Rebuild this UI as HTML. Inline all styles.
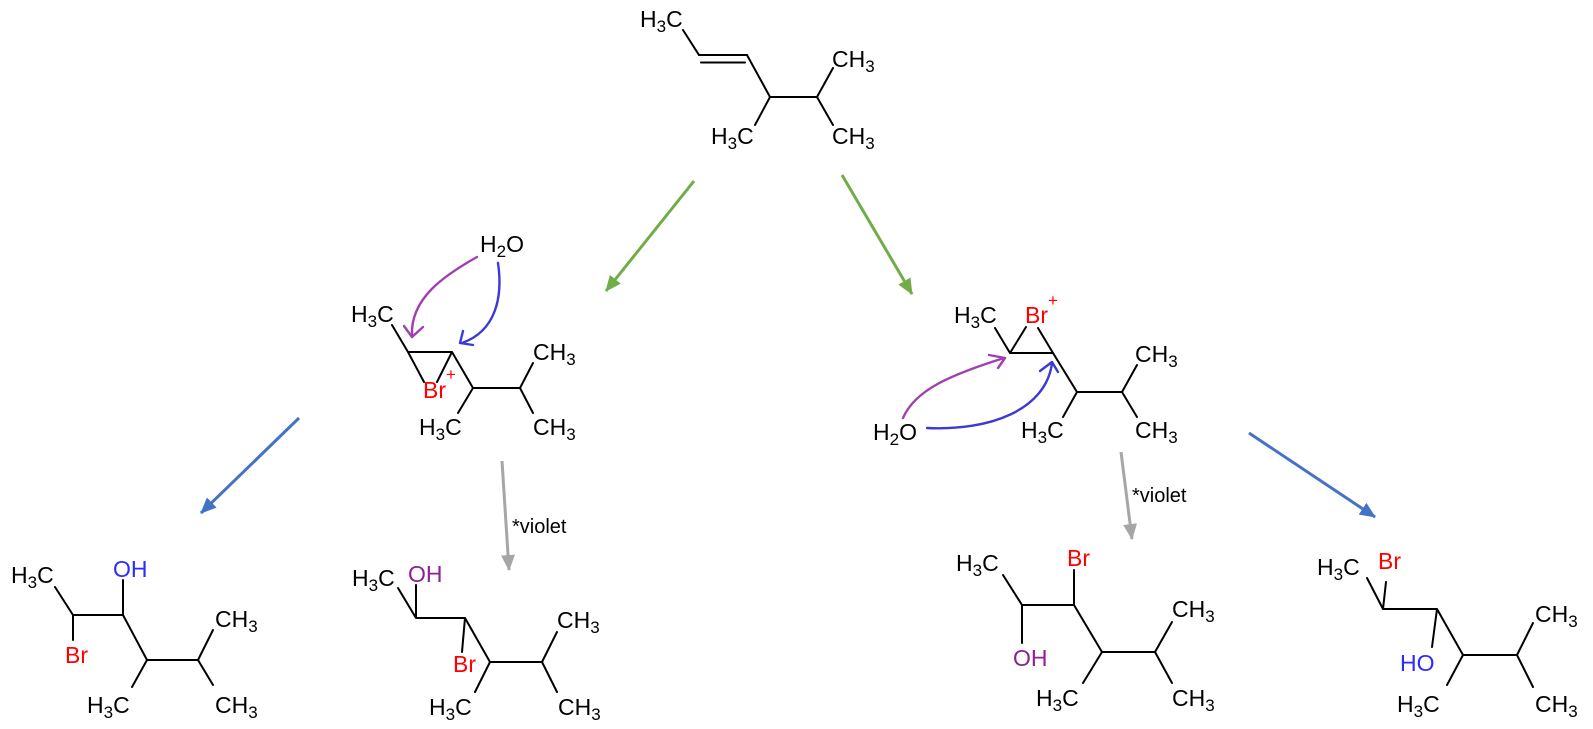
<!DOCTYPE html>
<html>
<head>
<meta charset="utf-8">
<style>
  html, body { margin: 0; padding: 0; background: #ffffff; }
  svg { display: block; }
  text { font-family: "Liberation Sans", Arial, sans-serif; font-size: 23px; fill: #000; }
  .sub { font-size: 17px; }
  .red { fill: #ff0000; }
  .blue { fill: #2b2bff; }
  .purple { fill: #8e1f94; }
  .note { font-size: 20px; }
</style>
</head>
<body>
<svg width="1593" height="729" viewBox="0 0 1593 729" xmlns="http://www.w3.org/2000/svg">
  <defs>
    <marker id="ag" markerUnits="userSpaceOnUse" markerWidth="16" markerHeight="14" refX="15" refY="7" orient="auto">
      <path d="M0,0 L16,7 L0,14 z" fill="#70ad47"/>
    </marker>
    <marker id="ab" markerUnits="userSpaceOnUse" markerWidth="16" markerHeight="14" refX="15" refY="7" orient="auto">
      <path d="M0,0 L16,7 L0,14 z" fill="#4472c4"/>
    </marker>
    <marker id="ay" markerUnits="userSpaceOnUse" markerWidth="16" markerHeight="14" refX="15" refY="7" orient="auto">
      <path d="M0,0 L16,7 L0,14 z" fill="#a6a6a6"/>
    </marker>
  </defs>

  <!-- ===== Bonds ===== -->
  <g stroke="#000" stroke-width="2" fill="none" stroke-linecap="round">
    <path d="M683,30 L699,55 L747,55 L770,97 L817,97 M701,62.5 L745,62.5 M770,97 L755,125 M817,97 L833,68 M817,97 L833,125"/>
    <path d="M392,325 L408,352 L452,352 M408,352 L424,382 M452,352 L437,382 M452,352 L473,388 L520,388 M473,388 L458,413 M520,388 L533,363 M520,388 L533,413"/>
    <path d="M995,328 L1010,353 L1053,353 M1010,353 L1026,327 M1053,353 L1038,328 M1053,353 L1077,392 L1122,392 M1077,392 L1063,417 M1122,392 L1137,365 M1122,392 L1137,417"/>
    <path d="M55,587 L73,615 L123,615 M73,615 L73,640 M123,615 L123,580 M123,615 L147,660 L198,660 M147,660 L132,687 M198,660 L213,630 M198,660 L213,685"/>
    <path d="M398,588 L416,618 L465,618 M416,618 L416,585 M465,618 L462,652 M465,618 L490,662 L542,662 M490,662 L475,692 M542,662 L557,632 M542,662 L557,692"/>
    <path d="M1003,575 L1022,605 L1074,605 M1022,605 L1022,643 M1074,605 L1074,570 M1074,605 L1102,652 L1155,652 M1102,652 L1083,683 M1155,652 L1172,622 M1155,652 L1172,683"/>
    <path d="M1367,578 L1383,609 L1437,609 M1383,609 L1386,582 M1437,609 L1432,647 M1437,609 L1463,655 L1517,655 M1463,655 L1447,685 M1517,655 L1533,623 M1517,655 L1533,687"/>
  </g>

  <!-- ===== Straight arrows ===== -->
  <g stroke-width="3" fill="none">
    <line x1="694" y1="181" x2="606" y2="291" stroke="#70ad47" marker-end="url(#ag)"/>
    <line x1="842" y1="175" x2="912" y2="294" stroke="#70ad47" marker-end="url(#ag)"/>
    <line x1="299" y1="418" x2="201" y2="513" stroke="#4472c4" marker-end="url(#ab)"/>
    <line x1="1249" y1="433" x2="1375" y2="517" stroke="#4472c4" marker-end="url(#ab)"/>
    <line x1="502" y1="461" x2="509" y2="570" stroke="#a6a6a6" marker-end="url(#ay)"/>
    <line x1="1121" y1="452" x2="1132" y2="539" stroke="#a6a6a6" marker-end="url(#ay)"/>
  </g>

  <!-- ===== Curved arrows ===== -->
  <g fill="none" stroke-width="2.4" stroke-linecap="round" stroke-linejoin="round">
    <path d="M477,257 C445,275 410,298 412,336" stroke="#a040b0"/>
    <path d="M404,326 L412,337 L423,327" stroke="#a040b0"/>
    <path d="M498,263 C503,297 496,331 462,343" stroke="#3a3ad6"/>
    <path d="M463,331 L460,343 L473,345" stroke="#3a3ad6"/>
    <path d="M903,418 C915,390 950,375 1004,358" stroke="#a040b0"/>
    <path d="M989,355 L1005,358 L998,368" stroke="#a040b0"/>
    <path d="M927,428 C990,431 1046,410 1052,363" stroke="#3a3ad6"/>
    <path d="M1040,371 L1052,362 L1058,372" stroke="#3a3ad6"/>
  </g>

  <!-- ===== Labels ===== -->
  <text x="640" y="27">H<tspan class="sub" dy="5">3</tspan><tspan dy="-5">C</tspan></text>
  <text x="711" y="144">H<tspan class="sub" dy="5">3</tspan><tspan dy="-5">C</tspan></text>
  <text x="832" y="67">CH<tspan class="sub" dy="5">3</tspan></text>
  <text x="832" y="144">CH<tspan class="sub" dy="5">3</tspan></text>

  <text x="480" y="252">H<tspan class="sub" dy="5">2</tspan><tspan dy="-5">O</tspan></text>
  <text x="351" y="322">H<tspan class="sub" dy="5">3</tspan><tspan dy="-5">C</tspan></text>
  <text x="423" y="398" class="red">Br</text>
  <text x="446" y="380" class="red" style="font-size:17px">+</text>
  <text x="419" y="435">H<tspan class="sub" dy="5">3</tspan><tspan dy="-5">C</tspan></text>
  <text x="533" y="360">CH<tspan class="sub" dy="5">3</tspan></text>
  <text x="533" y="435">CH<tspan class="sub" dy="5">3</tspan></text>

  <text x="954" y="323">H<tspan class="sub" dy="5">3</tspan><tspan dy="-5">C</tspan></text>
  <text x="1025" y="323" class="red">Br</text>
  <text x="1048" y="306" class="red" style="font-size:17px">+</text>
  <text x="873" y="440">H<tspan class="sub" dy="5">2</tspan><tspan dy="-5">O</tspan></text>
  <text x="1021" y="438">H<tspan class="sub" dy="5">3</tspan><tspan dy="-5">C</tspan></text>
  <text x="1135" y="362">CH<tspan class="sub" dy="5">3</tspan></text>
  <text x="1135" y="438">CH<tspan class="sub" dy="5">3</tspan></text>

  <text x="512" y="533" class="note">*violet</text>
  <text x="1132" y="502" class="note">*violet</text>

  <text x="11" y="583">H<tspan class="sub" dy="5">3</tspan><tspan dy="-5">C</tspan></text>
  <text x="113" y="577" class="blue">OH</text>
  <text x="65" y="663" class="red">Br</text>
  <text x="87" y="713">H<tspan class="sub" dy="5">3</tspan><tspan dy="-5">C</tspan></text>
  <text x="215" y="627">CH<tspan class="sub" dy="5">3</tspan></text>
  <text x="215" y="713">CH<tspan class="sub" dy="5">3</tspan></text>

  <text x="352" y="586">H<tspan class="sub" dy="5">3</tspan><tspan dy="-5">C</tspan></text>
  <text x="408" y="582" class="purple">OH</text>
  <text x="453" y="672" class="red">Br</text>
  <text x="429" y="715">H<tspan class="sub" dy="5">3</tspan><tspan dy="-5">C</tspan></text>
  <text x="557" y="628">CH<tspan class="sub" dy="5">3</tspan></text>
  <text x="558" y="715">CH<tspan class="sub" dy="5">3</tspan></text>

  <text x="956" y="571">H<tspan class="sub" dy="5">3</tspan><tspan dy="-5">C</tspan></text>
  <text x="1067" y="566" class="red">Br</text>
  <text x="1013" y="666" class="purple">OH</text>
  <text x="1036" y="706">H<tspan class="sub" dy="5">3</tspan><tspan dy="-5">C</tspan></text>
  <text x="1172" y="617">CH<tspan class="sub" dy="5">3</tspan></text>
  <text x="1172" y="706">CH<tspan class="sub" dy="5">3</tspan></text>

  <text x="1317" y="575">H<tspan class="sub" dy="5">3</tspan><tspan dy="-5">C</tspan></text>
  <text x="1378" y="569" class="red">Br</text>
  <text x="1400" y="671" class="blue">HO</text>
  <text x="1397" y="712">H<tspan class="sub" dy="5">3</tspan><tspan dy="-5">C</tspan></text>
  <text x="1535" y="622">CH<tspan class="sub" dy="5">3</tspan></text>
  <text x="1535" y="712">CH<tspan class="sub" dy="5">3</tspan></text>
</svg>
</body>
</html>
